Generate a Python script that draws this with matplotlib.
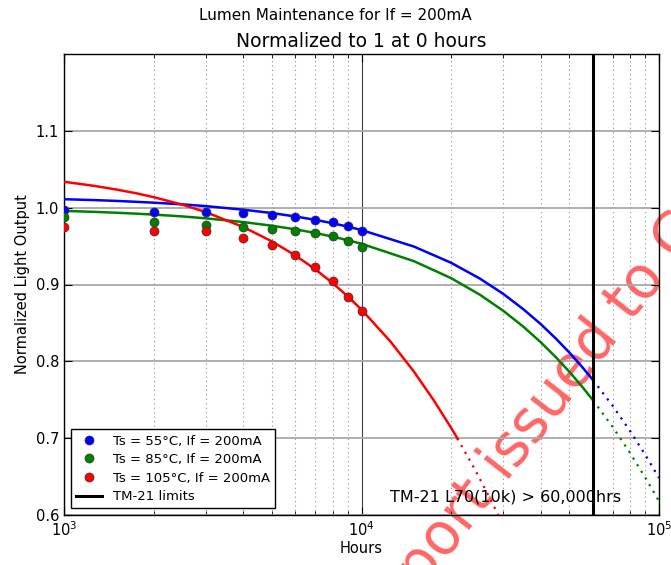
import matplotlib
matplotlib.use("Agg")
import matplotlib.pyplot as plt
from matplotlib.lines import Line2D
from matplotlib.ticker import LogLocator, NullFormatter, FixedLocator

# measured data
hours = [1000, 2000, 3000, 4000, 5000, 6000, 7000, 8000, 9000, 10000]
ts55 = [0.997, 0.995, 0.994, 0.993, 0.991, 0.9875, 0.9845, 0.9815, 0.9765, 0.969]
ts85 = [0.988, 0.981, 0.978, 0.975, 0.972, 0.970, 0.9675, 0.9625, 0.9565, 0.9485]
ts105 = [0.975, 0.970, 0.969, 0.960, 0.951, 0.9385, 0.923, 0.904, 0.884, 0.865]

# fitted curves (solid part)
fit_x = [1000, 1250, 1500, 1750, 2000, 2500, 3000, 4000, 5000, 6000, 7000, 8000, 9000, 10000,
         15000, 20000, 25000, 30000, 35000, 40000, 45000, 50000, 55000, 60000]
fit55 = [1.0110, 1.0099, 1.0088, 1.0076, 1.0065, 1.0043, 1.0020, 0.9974, 0.9930, 0.9885,
         0.9841, 0.9797, 0.9753, 0.9709,
         0.9494, 0.9283, 0.9077, 0.8876, 0.8678, 0.8486, 0.8297, 0.8113, 0.7933, 0.7757]
fit85 = [0.9958, 0.9946, 0.9934, 0.9922, 0.9910, 0.9886, 0.9861, 0.9813, 0.9765, 0.9718,
         0.9670, 0.9623, 0.9576, 0.9530,
         0.9304, 0.9083, 0.8867, 0.8656, 0.8451, 0.8250, 0.8054, 0.7863, 0.7676, 0.7494]
fit105_x = [1000, 1250, 1500, 1750, 2000, 2500, 3000, 4000, 5000, 6000, 7000, 8000, 9000,
            10000, 12500, 15000, 17500, 20000, 21000]
fit105 = [1.0337, 1.0286, 1.0236, 1.0187, 1.0137, 1.0039, 0.9941, 0.9749, 0.9561, 0.9377,
          0.9196, 0.9018, 0.8844, 0.8673, 0.8260, 0.7867, 0.7492, 0.7136, 0.6998]

# extrapolated curves (dotted part)
ext_x = [60000, 70000, 80000, 90000, 100000]
ext55 = [0.7757, 0.7416, 0.7091, 0.6780, 0.6482]
ext85 = [0.7494, 0.7141, 0.6805, 0.6485, 0.6180]
ext105_x = [21000, 24000, 27000, 30000]
ext105 = [0.6998, 0.6600, 0.6220, 0.5860]

tm21_limit = 60000
labels = ["Ts = 55°C, If = 200mA", "Ts = 85°C, If = 200mA", "Ts = 105°C, If = 200mA"]
colors = ["blue", "green", "red"]

plt.rcParams['font.family'] = ['DejaVu Sans']
fig = plt.figure(figsize=(6.71, 5.65), dpi=100)
ax = fig.add_axes([64/671, 50/565, 595/671, 461/565])
ax.set_facecolor('none')

ax.set_xscale('log')
ax.set_xlim(1e3, 1e5)
ax.set_ylim(0.6, 1.2)

# grid
ax.yaxis.set_major_locator(FixedLocator([0.6, 0.7, 0.8, 0.9, 1.0, 1.1]))
ax.xaxis.set_major_locator(LogLocator(base=10))
ax.xaxis.set_minor_locator(LogLocator(base=10, subs=range(2, 10)))
ax.xaxis.set_minor_formatter(NullFormatter())
ax.grid(True, axis='y', which='major', color='#a8a8a8', linewidth=1.3, linestyle='-')
ax.grid(True, axis='x', which='major', color='#404040', linewidth=0.8, linestyle='-')
ax.grid(True, axis='x', which='minor', color='#909090', linewidth=0.8, linestyle=(0, (1, 3)))
ax.set_axisbelow(True)

ax.tick_params(which='both', direction='in', top=True, right=True, labelsize=10.5)
ax.tick_params(which='major', length=6)
ax.tick_params(which='minor', length=3)
for s in ax.spines.values():
    s.set_linewidth(1.0)

series = [(ts55, fit55, fit_x, ext55, ext_x), (ts85, fit85, fit_x, ext85, ext_x),
          (ts105, fit105, fit105_x, ext105, ext105_x)]
for (pts, fy, fx, ey, ex), c in zip(series, colors):
    ax.plot(fx, fy, color=c, linewidth=1.8, zorder=3)
    ax.plot(ex, ey, color=c, linewidth=1.6, linestyle=(0, (1, 2.5)), zorder=3)
    ax.plot(hours, pts, 'o', color=c, markersize=6.5, markeredgecolor='#333333',
            markeredgewidth=0.5, zorder=4)

ax.axvline(tm21_limit, color='black', linewidth=2.2, zorder=4)

ax.text(0.742, 0.022, "TM-21 L70(10k) > 60,000hrs", transform=ax.transAxes,
        ha='center', va='bottom', fontsize=11.5, zorder=6)

handles = [Line2D([], [], marker='o', linestyle='none', color=c, markersize=6.5,
                  markeredgecolor='#333333', markeredgewidth=0.5) for c in colors]
handles.append(Line2D([], [], color='black', linewidth=2.2))
leg = ax.legend(handles, labels + ["TM-21 limits"], loc='lower left', fontsize=9.5,
                numpoints=1, fancybox=False, framealpha=1, edgecolor='black',
                borderaxespad=0.5, handlelength=2.0, labelspacing=0.42)
leg.get_frame().set_linewidth(1.0)
leg.set_zorder(7)

ax.set_xlabel("Hours", fontsize=10.5, labelpad=2)
ax.set_ylabel("Normalized Light Output", fontsize=10.5)
ax.set_title("Normalized to 1 at 0 hours", fontsize=13.5, pad=5)
fig.text(0.5, 0.972, "Lumen Maintenance for If = 200mA", ha='center', va='center',
         fontsize=11)

# watermark (behind the axes content)
fig.text(0.5624, -0.1465, "Report issued to Customer", fontsize=41.5, color='red',
         alpha=0.6, rotation=52, rotation_mode='anchor', ha='left', va='baseline',
         family='DejaVu Sans', zorder=-1)

fig.savefig("out.png", dpi=100)
